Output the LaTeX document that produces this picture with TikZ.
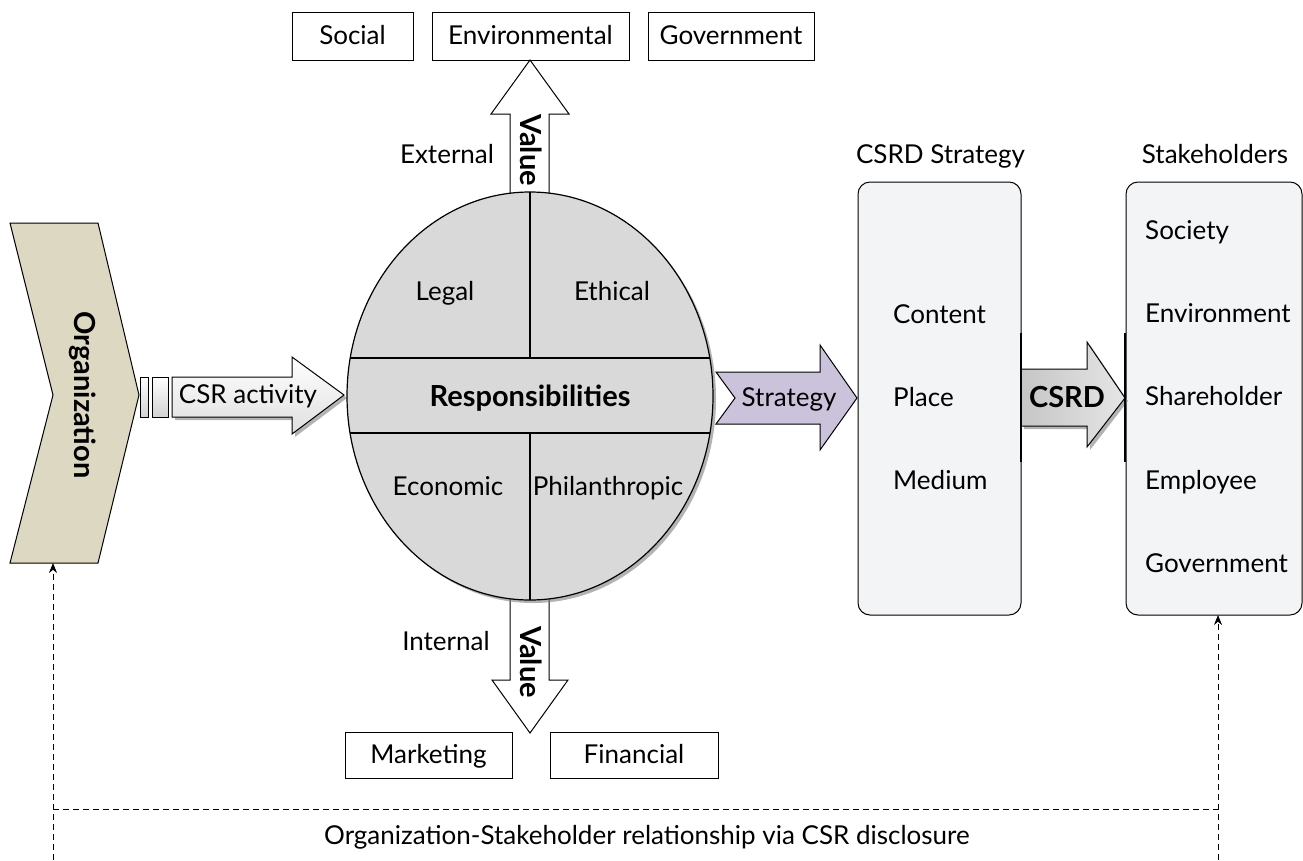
\documentclass[tikz,border=0pt]{standalone}
\usepackage{fontspec}
\setmainfont{Lato}
\usetikzlibrary{arrows.meta,shadows}

\definecolor{orgbeige}{HTML}{DCD8C2}
\definecolor{respgray}{HTML}{D9D9D9}
\definecolor{stratpurple}{HTML}{CBC3DC}
\definecolor{panelgray}{HTML}{F3F4F6}

\tikzset{
	txt/.style={font=\fontsize{26}{31}\selectfont, inner sep=0pt, text height=18pt, text depth=1pt},
	boldtxt/.style={font=\fontsize{29}{34}\selectfont\bfseries, inner sep=0pt, text height=20pt, text depth=1pt},
	valbox/.style={draw, line width=1pt, fill=white, font=\fontsize{26}{31}\selectfont, text height=18pt, text depth=1pt, inner sep=0pt, minimum height=48pt},
	panel/.style={draw, line width=1pt, fill=panelgray, rounded corners=12pt, minimum height=433pt},
	blockarrow/.style={draw, line width=1pt},
	shadowed/.style={drop shadow={shadow xshift=3pt, shadow yshift=-3pt, opacity=0.6}},
	loopline/.style={dash pattern=on 6pt off 4pt, line width=0.8pt},
	link/.style={loopline, -{Stealth[length=10pt,width=8pt]}},
}

\begin{document}
\begin{tikzpicture}[x=1pt, y=-1pt]
			%%%%% START %%%%%
			\useasboundingbox (0,0) rectangle (1303,860);
			
			% value boxes
			\node[valbox, minimum width=121pt] (social) at (352.5,36) {Social};
			\node[valbox, minimum width=197pt] (envir) at (530.5,36) {Environmental};
			\node[valbox, minimum width=166pt] (govern) at (731,36) {Government};
			\node[valbox, minimum width=167pt, minimum height=46pt] (market) at (428.5,755) {Marketing};
			\node[valbox, minimum width=168pt, minimum height=46pt] (financ) at (634,755) {Financial};
			
			% organization
			\draw[blockarrow, fill=orgbeige] (10,223) -- (98,223) -- (139,395) -- (98,563) -- (10,563) -- (53,395) -- cycle;
			\node[boldtxt, rotate=-90] (org) at (84,395) {Organization};
			
			\draw[line width=0.8pt, top color=white, bottom color=gray!35] (140,377) rectangle (148,417);
			\draw[line width=0.8pt, top color=white, bottom color=gray!35] (152,377) rectangle (168,417);
			
			\draw[blockarrow, shadowed, top color=white, bottom color=gray!25] (172,377) -- (292,377) -- (292,357) -- (344,395) -- (292,434) -- (292,417) -- (172,417) -- cycle;
			\node[txt] (csract) at (248,395) {CSR activity};
			
			% value arrows
			\draw[blockarrow, fill=white] (510,200) -- (510,114) -- (491,114) -- (530,60) -- (569,114) -- (549,114) -- (549,200);
			\node[boldtxt, rotate=-90] (valup) at (530,150) {Value};
			\node[txt] (extern) at (447,155) {External};
			
			\draw[blockarrow, fill=white] (510,590) -- (510,680) -- (492,680) -- (530,733) -- (568,680) -- (549,680) -- (549,590);
			\node[boldtxt, rotate=-90] (valdown) at (530,662) {Value};
			\node[txt] (intern) at (446,642) {Internal};
			
			% responsibilities
			\draw[line width=1.2pt, fill=respgray, shadowed] (530,396) ellipse [x radius=183, y radius=204];
			\begin{scope}
				\clip (530,396) ellipse [x radius=183, y radius=204];
				\draw[line width=1.2pt] (340,358) -- (720,358);
				\draw[line width=1.2pt] (340,433) -- (720,433);
				\draw[line width=1.2pt] (530,180) -- (530,358);
				\draw[line width=1.2pt] (530,433) -- (530,610);
			\end{scope}
			\node[txt] (legal) at (445,292) {Legal};
			\node[txt] (ethic) at (612,292) {Ethical};
			\node[boldtxt] (resp) at (530,397) {Responsibilities};
			\node[txt] (econ) at (448,487) {Economic};
			\node[txt] (philan) at (608,487) {Philanthropic};
			
			% strategy
			\draw[blockarrow, fill=stratpurple] (716,372) -- (820,372) -- (820,345) -- (857,398) -- (820,450) -- (820,424) -- (716,424) -- (735,398) -- cycle;
			\node[txt] (strat) at (789,398) {Strategy};
			
			% CSRD strategy panel
			\node[panel, minimum width=163pt] (csrdbox) at (939.5,398.5) {};
			\node[txt] (csrdtitle) at (940.5,155) {CSRD Strategy};
			\foreach \name/\y in {Content/315, Place/398, Medium/481}
				\node[txt, anchor=west] at (893,\y) {\name};
			
			% stakeholders panel
			\node[panel, minimum width=176pt] (stakebox) at (1214,398.5) {};
			\node[txt] (staketitle) at (1215,155) {Stakeholders};
			\foreach \name/\y in {Society/231, Environment/314, Shareholder/397, Employee/481, Government/564}
				\node[txt, anchor=west] at (1145,\y) {\name};
			
			% CSRD arrow
			\draw[blockarrow, shadowed, left color=gray!45, right color=gray!20] (1021,369) -- (1087,369) -- (1087,342) -- (1125,398) -- (1087,447) -- (1087,426) -- (1021,426) -- cycle;
			\node[boldtxt] (csrd) at (1067,398) {CSRD};
			\draw[line width=2.5pt] (1021,333) -- (1021,462);
			\draw[line width=2.5pt] (1125,333) -- (1125,462);
			
			% disclosure loop
			\coordinate (orgfoot) at (53,563);
			\coordinate (stakefoot) at (1218,615);
			\coordinate (lbot) at (53,860);
			\coordinate (rbot) at (1218,860);
			\coordinate (lmid) at (53,809);
			\coordinate (rmid) at (1218,809);
			\draw[link] (lbot) -- (orgfoot);
			\draw[link] (rbot) -- (stakefoot);
			\draw[loopline] (lmid) -- (rmid);
			\node[txt] (disclose) at (647,836) {Organization-Stakeholder relationship via CSR disclosure};
			
			%%%%% END %%%%%
\end{tikzpicture}
\end{document}
